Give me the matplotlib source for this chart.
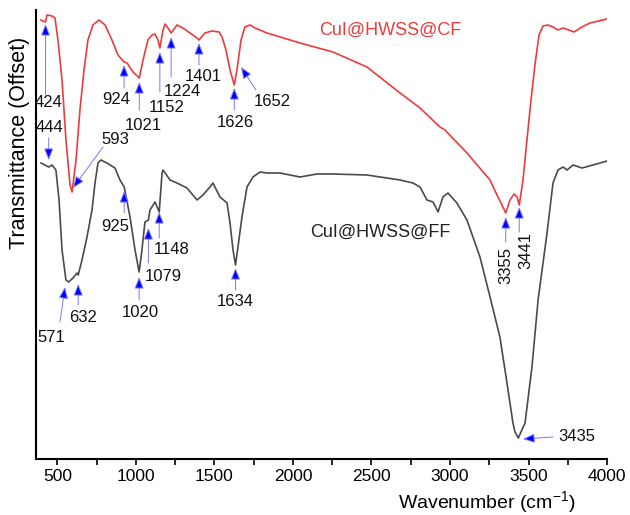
import matplotlib
matplotlib.use("Agg")
import matplotlib.pyplot as plt

plt.rcParams['font.family'] = ['Liberation Sans', 'DejaVu Sans']
plt.rcParams['mathtext.default'] = 'regular'

# CuI@HWSS@CF (red, upper trace) - wavenumber / offset transmittance (a.u.)
cf_wn = [395, 424, 433, 465, 484, 503, 529, 554, 580, 593, 618, 643, 669, 694, 726, 764,
         803, 847, 885, 924, 943, 981, 1021, 1045, 1076, 1102, 1121, 1140, 1152, 1172, 1185,
         1204, 1224, 1261, 1299, 1344, 1389, 1401, 1439, 1484, 1529, 1548, 1573, 1599, 1626,
         1643, 1656, 1669, 1694, 1726, 1758, 1834, 2045, 2255, 2471, 2682, 2809, 2936, 2968,
         3108, 3255, 3299, 3331, 3355, 3382, 3408, 3427, 3441, 3465, 3490, 3516, 3541, 3567,
         3592, 3624, 3656, 3688, 3720, 3790, 3840, 3892, 4000]
cf_t = [87.8, 87.4, 88.8, 88.6, 88.2, 83.8, 75.8, 63.8, 54.8, 53.4, 59.8, 69.8, 77.8, 83.8, 86.8, 87.8,
        86.8, 83.8, 80.8, 79.4, 79.2, 77.4, 76.2, 79.8, 83.8, 84.8, 85.0, 83.8, 82.2, 85.8, 87.0,
        86.2, 85.2, 86.8, 86.2, 85.2, 84.2, 83.8, 85.2, 85.6, 85.4, 84.4, 81.8, 77.8, 74.8,
        77.8, 80.8, 83.8, 86.4, 86.8, 86.2, 85.2, 83.2, 81.4, 78.4, 73.2, 70.2, 66.4, 65.8,
        61.2, 55.8, 52.8, 50.8, 49.2, 51.8, 53.0, 52.4, 50.8, 55.8, 63.8, 71.8, 78.8, 84.8,
        86.6, 86.8, 86.4, 85.8, 86.2, 85.4, 86.4, 87.2, 88.0]

# CuI@HWSS@FF (dark grey, lower trace)
ff_wn = [395, 420, 444, 465, 490, 510, 529, 554, 571, 599, 624, 632, 656, 688, 720, 739, 758,
         777, 815, 866, 898, 925, 962, 994, 1020, 1038, 1057, 1079, 1089, 1121, 1148, 1166,
         1172, 1217, 1261, 1325, 1389, 1427, 1471, 1490, 1535, 1580, 1599, 1618, 1634, 1675,
         1707, 1745, 1790, 1834, 1917, 2045, 2153, 2255, 2471, 2682, 2764, 2809, 2853, 2892,
         2924, 2955, 2987, 3044, 3108, 3191, 3255, 3318, 3363, 3401, 3414, 3435, 3452, 3478,
         3522, 3561, 3618, 3656, 3688, 3720, 3745, 3784, 3841, 3911, 4000]
ff_t = [59.2, 58.8, 58.4, 58.8, 57.8, 51.8, 41.8, 35.8, 35.4, 36.2, 37.2, 36.8, 39.8, 44.4, 49.8, 55.2, 59.2,
        59.8, 59.2, 58.2, 55.8, 54.4, 48.4, 41.8, 37.4, 41.8, 47.4, 47.8, 49.8, 51.4, 49.4, 57.2,
        57.8, 55.8, 55.2, 54.2, 51.8, 52.8, 54.4, 55.2, 52.4, 51.2, 47.2, 41.8, 38.8, 48.4,
        54.4, 56.4, 57.4, 57.2, 57.2, 56.4, 57.0, 57.0, 56.8, 55.8, 55.2, 54.4, 51.8, 51.4,
        49.4, 52.4, 53.2, 51.2, 47.8, 40.4, 32.4, 24.4, 15.2, 7.2, 5.4, 4.2, 5.4, 7.2,
        18.4, 31.8, 45.2, 55.2, 57.8, 58.4, 57.8, 58.8, 58.2, 58.8, 59.6]

# peak labels: text, arrow tip, arrow tail, text position, rotation
cf_peaks = [
    ("424", (424, 87.0), (424, 72.8), (446, 71.2), 0),
    ("593", (599, 54.2), (790, 62.4), (866, 63.8), 0),
    ("924", (924, 78.8), (924, 74.2), (873, 71.8), 0),
    ("1021", (1021, 75.4), (1021, 69.8), (1045, 66.6), 0),
    ("1152", (1152, 81.4), (1152, 73.4), (1197, 70.2), 0),
    ("1224", (1224, 84.4), (1224, 76.4), (1293, 73.4), 0),
    ("1401", (1401, 83.2), (1401, 78.8), (1427, 76.4), 0),
    ("1626", (1626, 74.2), (1626, 69.8), (1631, 67.2), 0),
    ("1652", (1669, 78.4), (1764, 73.8), (1866, 71.4), 0),
    ("3355", (3355, 48.4), (3355, 43.4), (3355, 38.8), 90),
    ("3441", (3441, 50.4), (3441, 45.4), (3480, 41.8), 90),
]
ff_peaks = [
    ("444", (444, 59.8), (444, 64.2), (446, 66.2), 0),
    ("571", (548, 34.4), (516, 27.4), (459, 24.4), 0),
    ("632", (632, 35.0), (632, 30.8), (662, 28.4), 0),
    ("925", (925, 53.6), (925, 49.2), (866, 46.6), 0),
    ("1020", (1020, 36.4), (1020, 31.8), (1025, 29.4), 0),
    ("1079", (1079, 46.2), (1079, 39.2), (1172, 36.6), 0),
    ("1148", (1148, 49.4), (1148, 44.2), (1229, 42.0), 0),
    ("1634", (1634, 38.2), (1634, 33.8), (1631, 31.6), 0),
    ("3435", (3465, 4.0), (3656, 4.4), (3808, 4.6), 0),
]

fig = plt.figure(figsize=(6.3, 5.15), dpi=100)
ax = fig.add_axes([0.0571, 0.1087, 0.9064, 0.8719])

ax.plot(cf_wn, cf_t, color='#ee3b3b', lw=1.2)
ax.plot(ff_wn, ff_t, color='#4a4a4a', lw=1.2)

for lab, tip, tail, tpos, rot in cf_peaks + ff_peaks:
    # light blue shaft, solid blue head
    ax.annotate('', xy=tip, xytext=tail,
                arrowprops=dict(arrowstyle='-|>,head_length=0.7,head_width=0.28',
                                fc='blue', ec='#7878ff', lw=0.7, mutation_scale=10,
                                shrinkA=0, shrinkB=0))
    ax.text(tpos[0], tpos[1], lab, fontsize=12, color='#111111',
            ha='center', va='center', rotation=rot)

ax.text(2618, 85.8, 'CuI@HWSS@CF', color='#ee3b3b', fontsize=13, ha='center', va='center')
ax.text(2554, 45.4, 'CuI@HWSS@FF', color='#222222', fontsize=13, ha='center', va='center')

ax.set_xlim(363, 4000)
ax.set_ylim(0, 89.8)
ax.set_xticks([500, 1000, 1500, 2000, 2500, 3000, 3500, 4000])
ax.set_xticks([750, 1250, 1750, 2250, 2750, 3250, 3750], minor=True)
ax.tick_params(axis='x', which='both', direction='out', length=4, width=1.2, labelsize=12.5)
ax.set_yticks([])
for s in ['top', 'right']:
    ax.spines[s].set_visible(False)
for s in ['left', 'bottom']:
    ax.spines[s].set_linewidth(1.5)

ax.set_xlabel('Wavenumber (cm$^{-1}$)', fontsize=14)
ax.xaxis.set_label_coords(0.79, -0.068)
ax.set_ylabel('Transmittance (Offset)', fontsize=15.5)
ax.yaxis.set_label_coords(-0.010, 0.705)

fig.savefig('out.png', dpi=100)
